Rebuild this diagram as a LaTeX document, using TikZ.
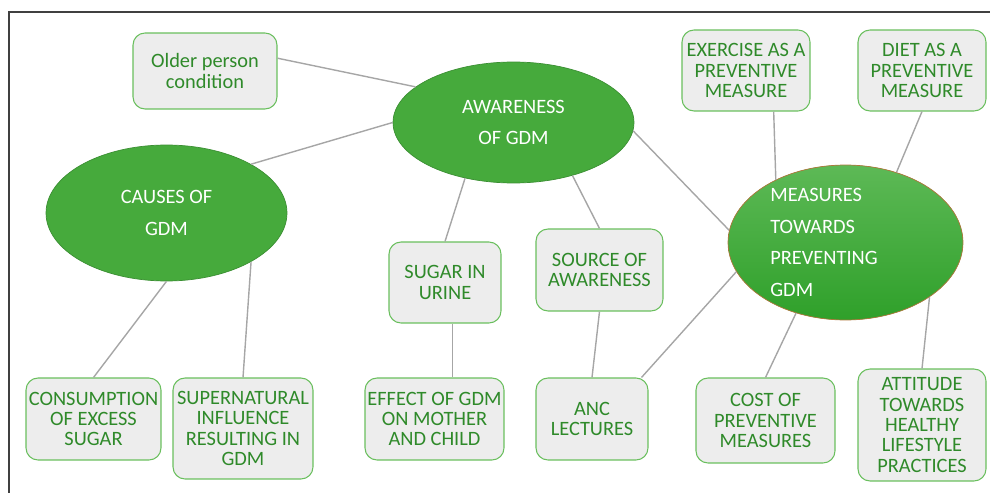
\documentclass[tikz,border=0pt]{standalone}
\usepackage{fontspec}
\setmainfont{Carlito}
\usetikzlibrary{shapes.geometric}
\definecolor{OvalGreen}{HTML}{46AA3C}
\definecolor{OvalEdge}{HTML}{3B8F33}
\definecolor{MeasTop}{HTML}{5DB956}
\definecolor{MeasBottom}{HTML}{2FA02A}
\definecolor{MeasEdge}{HTML}{B0763C}
\definecolor{BoxFill}{HTML}{EDEDED}
\definecolor{BoxEdge}{HTML}{6ABF5E}
\definecolor{TextGreen}{HTML}{2F8A2A}
\definecolor{LinkGray}{HTML}{A6A6A6}
\definecolor{FrameGray}{HTML}{404040}

\tikzset{
  topicbox/.style={
    rounded corners=0.24cm,
    draw=BoxEdge,
    fill=BoxFill,
    line width=0.6pt,
    inner sep=0pt,
    align=center,
    text=TextGreen,
    font=\fontsize{11.6}{11.6}\selectfont
  },
  oval/.style={
    ellipse,
    draw=OvalEdge,
    fill=OvalGreen,
    line width=0.4pt,
    inner sep=0pt,
    align=center,
    text=white,
    font=\fontsize{11.6}{18}\selectfont
  },
  link/.style={draw=LinkGray, line width=0.8pt}
}

\begin{document}
\begin{tikzpicture}[x=0.02cm, y=-0.02cm]
  \useasboundingbox (0,0) rectangle (990,493);
  % frame
  \draw[FrameGray, line width=0.7pt] (9,493) -- (9,12) -- (990,12);

  % the three ovals
  \node[oval, minimum width=4.82cm, minimum height=2.42cm] (aw) at (513.5,122.5) {AWARENESS\\OF GDM};
  \node[oval, minimum width=4.82cm, minimum height=2.72cm] (causes) at (166.5,213) {CAUSES OF\\GDM};
  \node[oval, draw=MeasEdge, top color=MeasTop, bottom color=MeasBottom,
    minimum width=4.7cm, minimum height=3.1cm] (meas) at (845.5,242.5) {};
  \node[text=white, align=left, anchor=west, inner sep=0pt,
    font=\fontsize{11.6}{18.1}\selectfont] (meas-text) at ([xshift=-1.51cm]meas.center)
    {MEASURES\\TOWARDS\\PREVENTING\\GDM};

  % boxes
  \node[topicbox, minimum width=2.88cm, minimum height=1.52cm] (older) at (205,71) {Older person\\condition};
  \node[topicbox, minimum width=2.56cm, minimum height=1.62cm] (exer) at (746,70.5) {EXERCISE AS A\\PREVENTIVE\\MEASURE};
  \node[topicbox, minimum width=2.56cm, minimum height=1.62cm] (diet) at (922,70.5) {DIET AS A\\PREVENTIVE\\MEASURE};
  \node[topicbox, minimum width=2.24cm, minimum height=1.62cm] (sugar) at (445,282.5) {SUGAR IN\\URINE};
  \node[topicbox, minimum width=2.54cm, minimum height=1.64cm] (source) at (599.5,270) {SOURCE OF\\AWARENESS};
  \node[topicbox, minimum width=2.7cm, minimum height=1.64cm] (cons) at (93.5,419) {CONSUMPTION\\OF EXCESS\\SUGAR};
  \node[topicbox, minimum width=2.8cm, minimum height=2.02cm] (super) at (243,428.5) {SUPERNATURAL\\INFLUENCE\\RESULTING IN\\GDM};
  \node[topicbox, minimum width=2.78cm, minimum height=1.64cm] (effect) at (434.5,419) {EFFECT OF GDM\\ON MOTHER\\AND CHILD};
  \node[topicbox, minimum width=2.24cm, minimum height=1.64cm] (anc) at (592,419) {ANC\\LECTURES};
  \node[topicbox, minimum width=2.78cm, minimum height=1.7cm] (cost) at (765.5,420.5) {COST OF\\PREVENTIVE\\MEASURES};
  \node[topicbox, minimum width=2.56cm, minimum height=2.24cm] (att) at (922,425) {ATTITUDE\\TOWARDS\\HEALTHY\\LIFESTYLE\\PRACTICES};

  % connectors
  \draw[link] (older.10) -- (aw.160);
  \draw[link] (causes.30) -- (aw.west);
  \draw[link] (aw.-131) -- (sugar.north);
  \draw[link] (aw.-42) -- (source.north);
  \draw[link] (aw.-4) -- (meas.174);
  \draw[link] (causes.south) -- (cons.north);
  \draw[link] (causes.-30) -- (super.north);
  \draw[link] (sugar.-80) -- (sugar.-80 |- effect.north);
  \draw[link] (source.south) -- (anc.north);
  \draw[link] (meas.195) -- (anc.40);
  \draw[link] (exer.-56) -- (meas.138);
  \draw[link] (diet.south) -- (meas.54);
  \draw[link] (meas.-125) -- (cost.north);
  \draw[link] (meas.-33) -- (att.north);
\end{tikzpicture}
\end{document}
